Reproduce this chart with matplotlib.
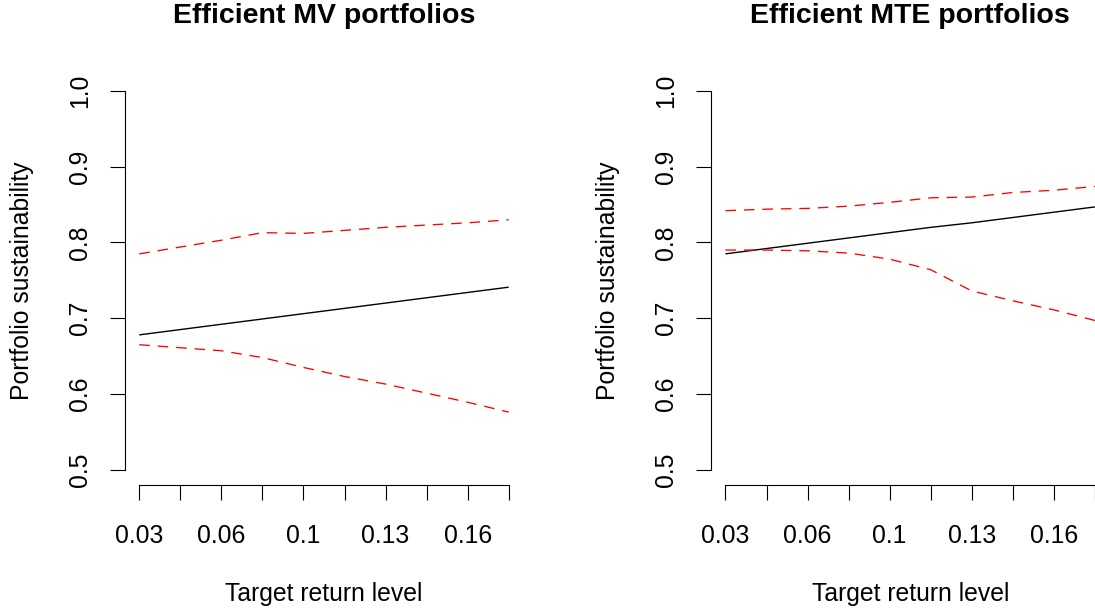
import matplotlib
matplotlib.use("Agg")
import matplotlib.pyplot as plt

plt.rcParams["font.family"] = ["Liberation Sans", "DejaVu Sans"]

# Target return grid (index positions 1..10) and the labels R keeps after overlap removal
positions = list(range(1, 11))
tick_labels = ["0.03", "", "0.06", "", "0.1", "", "0.13", "", "0.16", ""]
y_ticks = [0.5, 0.6, 0.7, 0.8, 0.9, 1.0]
y_tick_labels = ["0.5", "0.6", "0.7", "0.8", "0.9", "1.0"]

# Mean-variance efficient portfolios
mv_mean = [0.678, 0.685, 0.692, 0.699, 0.706, 0.713, 0.720, 0.727, 0.734, 0.741]
mv_upper = [0.785, 0.794, 0.803, 0.813, 0.812, 0.816, 0.820, 0.823, 0.826, 0.830]
mv_lower = [0.665, 0.661, 0.657, 0.648, 0.635, 0.623, 0.613, 0.601, 0.589, 0.576]

# Mean-tail-entropy efficient portfolios
mte_mean = [0.785, 0.792, 0.799, 0.806, 0.813, 0.820, 0.826, 0.833, 0.840, 0.847]
mte_upper = [0.842, 0.844, 0.845, 0.848, 0.853, 0.859, 0.860, 0.866, 0.869, 0.874]
mte_lower = [0.790, 0.790, 0.789, 0.786, 0.778, 0.764, 0.736, 0.723, 0.711, 0.697]

W, H = 1095, 608
fig = plt.figure(figsize=(W / 100, H / 100), dpi=100)

panel_w = 399 / W
panel_h = 408.9 / H
panel_bottom = (H - 484.8) / H

panels = [
    (124.5 / W, "Efficient MV portfolios", mv_mean, mv_upper, mv_lower),
    (710.7 / W, "Efficient MTE portfolios", mte_mean, mte_upper, mte_lower),
]

LABEL_SIZE = 17.8
TITLE_SIZE = 20.5

for left, title, mean, upper, lower in panels:
    ax = fig.add_axes([left, panel_bottom, panel_w, panel_h])
    ax.plot(positions, mean, color="black", lw=1.0, solid_capstyle="butt")
    for band in (upper, lower):
        ax.plot(positions, band, color="red", lw=0.95, dashes=(8.0, 6.0))

    ax.set_xlim(1 - 0.36, 10 + 0.36)
    ax.set_ylim(0.48, 1.02)

    for side in ("top", "right"):
        ax.spines[side].set_visible(False)
    ax.spines["left"].set_bounds(0.5, 1.0)
    ax.spines["bottom"].set_bounds(1, 10)
    for side in ("left", "bottom"):
        ax.spines[side].set_linewidth(0.8)

    ax.set_xticks(positions)
    ax.set_xticklabels(tick_labels)
    ax.set_yticks(y_ticks)
    ax.set_yticklabels(y_tick_labels, rotation=90, va="center")
    ax.tick_params(axis="both", direction="out", length=10.8, width=0.8,
                   labelsize=LABEL_SIZE, colors="black")
    ax.tick_params(axis="x", pad=17.5)
    ax.tick_params(axis="y", pad=12.5)

    ax.set_title(title, fontsize=TITLE_SIZE, fontweight="bold", pad=38)
    ax.set_xlabel("Target return level", fontsize=LABEL_SIZE)
    ax.set_ylabel("Portfolio sustainability", fontsize=LABEL_SIZE)
    ax.xaxis.set_label_coords(0.5, -0.2377)
    ax.yaxis.set_label_coords(-0.227, 0.5)

fig.savefig("out.png", dpi=100)
